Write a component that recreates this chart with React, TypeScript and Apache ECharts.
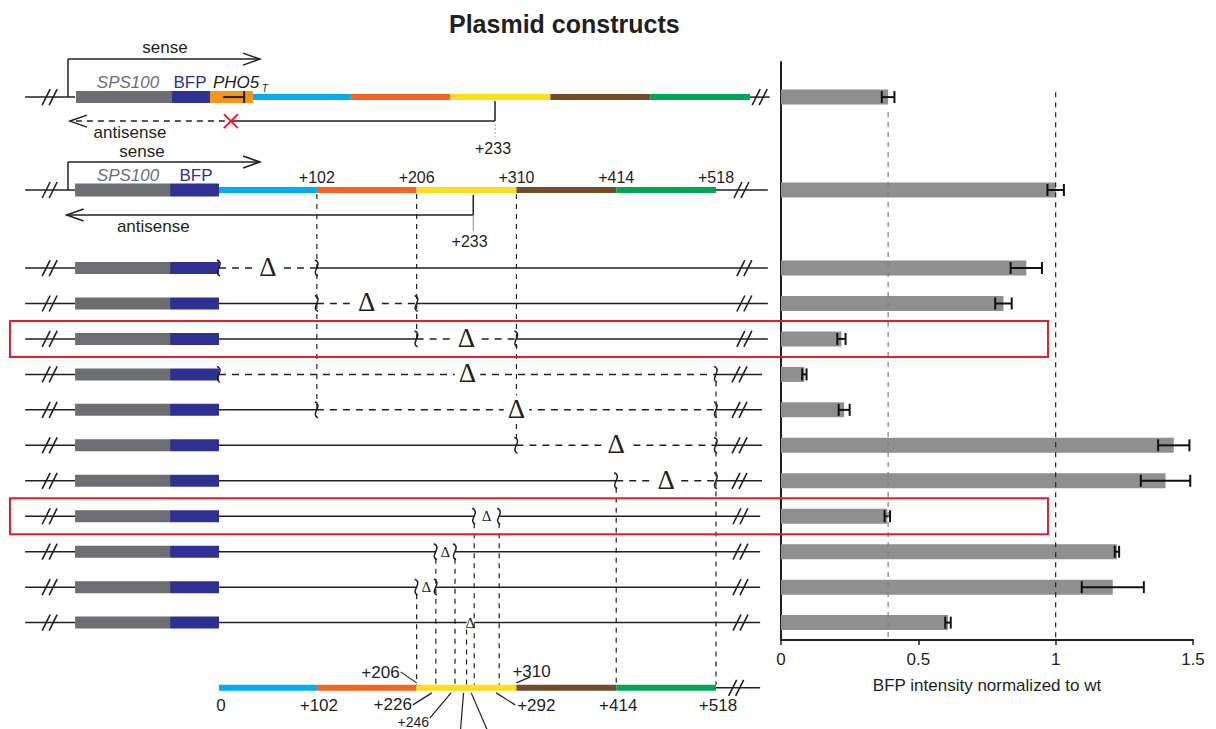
import React, { useEffect, useRef } from "react";
import * as echarts from "echarts";

// ---------------- data ----------------
const constructNames = [
  "PHO5T", "wt", "Δ0–102", "Δ102–206", "Δ206–310", "Δ0–518", "Δ102–518",
  "Δ310–518", "Δ414–518", "Δ266–292", "Δ226–246", "Δ206–226", "Δ258–266",
];
const bfpIntensity = [0.39, 1.0, 0.893, 0.81, 0.22, 0.085, 0.23, 1.43, 1.4, 0.387, 1.223, 1.208, 0.608];
const bfpError = [0.023, 0.03, 0.057, 0.03, 0.015, 0.008, 0.02, 0.057, 0.09, 0.01, 0.008, 0.113, 0.01];
const deletionStart: (number | null)[] = [null, null, 0, 102, 206, 0, 102, 310, 414, 266, 226, 206, 258];
const deletionEnd: (number | null)[] = [null, null, 102, 206, 310, 518, 518, 518, 518, 292, 246, 226, 266];
const segmentBounds = [0, 102, 206, 310, 414, 518];
const scaleMarks = [0, 102, 206, 226, 246, 292, 310, 414, 518];
const antisenseTss = 233;
const referenceLevels = [0.39, 1];
const highlightedRows = [4, 9];
// dashed guide lines: position (bp), from row, to row (-1 = bottom scale)
const guidePos = [102, 206, 310, 518, 414, 206, 226, 246, 258, 266, 292];
const guideFromRow = [1, 1, 1, 5, 8, 11, 10, 10, 12, 9, 9];
const guideToRow = [6, 4, 7, -1, -1, -1, -1, -1, -1, -1, -1];

// ---------------- layout / style ----------------
const ROW_SLOT = [-4.82, -2.2, 0, 1, 2, 3, 4, 5, 6, 7, 8, 9, 10];
const SCALE_SLOT = 11.84;
const Y_MIN = -5.81;
const Y_MAX = 10.49;
const REF_TOP_SLOT = [-4.4, -4.96];
const INK = "#231f20";
const GRAY = "#6d6e71";
const NAVY = "#2e3192";
const PHO_ORANGE = "#f7941d";
const RED = "#ed1c24";
const SEG_COLORS = ["#00aeef", "#f26522", "#ffde17", "#754c29", "#00a651"];
const FONT = "Liberation Sans, Arial, Helvetica, sans-serif";
const SERIF = "Liberation Serif, Times New Roman, serif";

function ln(x1: number, y1: number, x2: number, y2: number, stroke = INK, lineWidth = 1.5, lineDash?: number[]) {
  return { type: "line", shape: { x1, y1, x2, y2 }, style: { stroke, lineWidth, lineDash, fill: null } };
}
function rc(x1: number, x2: number, yc: number, h: number, fill: string) {
  return { type: "rect", shape: { x: x1, y: yc - h / 2, width: x2 - x1, height: h }, style: { fill } };
}
function tx(x: number, y: number, text: string, o: any = {}) {
  return {
    type: "text",
    x,
    y,
    style: {
      text,
      fill: o.color || INK,
      fontSize: o.size || 17,
      fontFamily: o.family || FONT,
      fontStyle: o.italic ? "italic" : "normal",
      fontWeight: o.bold ? "bold" : "normal",
      align: o.align || "center",
      verticalAlign: "middle",
      backgroundColor: o.bg,
      padding: o.pad,
    },
  };
}
function slashes(xc: number, y: number) {
  return [ln(xc - 7, y + 8, xc + 1, y - 8, INK, 1.6), ln(xc, y + 8, xc + 8, y - 8, INK, 1.6)];
}
function brk(x: number, y: number) {
  return {
    type: "bezierCurve",
    shape: { x1: x - 2, y1: y - 8, cpx1: x + 7, cpy1: y - 4, cpx2: x - 7, cpy2: y + 4, x2: x + 1, y2: y + 8 },
    style: { stroke: INK, lineWidth: 1.5, fill: null },
  };
}
function arrowHead(x: number, y: number, dir: number) {
  return {
    type: "polyline",
    shape: { points: [[x - dir * 17, y - 6], [x, y], [x - dir * 17, y + 6]] },
    style: { stroke: INK, lineWidth: 1.5, fill: null },
  };
}

function renderConstruct(params: any, api: any) {
  const i = params.dataIndex;
  const slot = ROW_SLOT[i];
  const X = (bp: number) => api.coord([bp, slot])[0];
  const y = api.coord([0, slot])[1];
  const ch: any[] = [];
  ch.push(ln(X(-202), y, X(-150), y));
  ch.push(...slashes(X(-177), y));

  if (i === 0) {
    const O = 35.4;
    ch.push(rc(X(-149), X(-49), y, 12, GRAY));
    ch.push(rc(X(-49), X(-9.4), y, 12, NAVY));
    ch.push(rc(X(-9.4), X(O), y, 12, PHO_ORANGE));
    ch.push(ln(X(4.3), y, X(26.2), y, INK, 2));
    ch.push(ln(X(26.2), y - 6, X(26.2), y + 6, INK, 2));
    for (let k = 0; k < segmentBounds.length - 1; k++) {
      ch.push(rc(X(O + segmentBounds[k]), X(O + segmentBounds[k + 1]), y, 6, SEG_COLORS[k]));
    }
    ch.push(ln(X(O + 518), y, X(574), y));
    ch.push(...slashes(X(563), y));
    const sx = X(-157.4);
    const tip = X(42.7);
    ch.push(ln(sx, y, sx, y - 38));
    ch.push(ln(sx, y - 38, tip, y - 38));
    ch.push(arrowHead(tip, y - 38, 1));
    ch.push(tx(X(-56.3), y - 50, "sense"));
    ch.push(tx(X(-94.8), y - 15, "SPS100", { italic: true, color: GRAY }));
    ch.push(tx(X(-30.2), y - 15, "BFP", { color: NAVY }));
    ch.push(tx(X(-6.3), y - 15, "PHO5", { italic: true, align: "left" }));
    ch.push(tx(X(44.5), y - 9, "T", { italic: true, size: 10, align: "left" }));
    const ax = X(O + 252.3);
    const ay = y + 24;
    ch.push(ln(ax, y + 4, ax, ay));
    ch.push(ln(ax, ay, X(17.6), ay));
    ch.push(ln(X(17.6), ay, X(-155.3), ay, INK, 1.5, [6, 5]));
    ch.push(arrowHead(X(-155.3), ay, -1));
    const rx = X(12.4);
    ch.push(ln(rx - 7, ay - 7, rx + 7, ay + 7, RED, 2));
    ch.push(ln(rx - 7, ay + 7, rx + 7, ay - 7, RED, 2));
    ch.push(ln(ax, ay + 3, ax, ay + 16, "#9a9a9a", 1, [2, 2]));
    ch.push(tx(ax - 2, y + 51, "+" + antisenseTss, { size: 16 }));
    ch.push(tx(X(-92.8), y + 35, "antisense"));
  } else if (i === 1) {
    ch.push(rc(X(-150), X(-51), y, 13, GRAY));
    ch.push(rc(X(-51), X(0), y, 13, NAVY));
    for (let k = 0; k < segmentBounds.length - 1; k++) {
      ch.push(rc(X(segmentBounds[k]), X(segmentBounds[k + 1]), y, 6, SEG_COLORS[k]));
    }
    segmentBounds.slice(1).forEach((b) => ch.push(tx(X(b), y - 13, "+" + b, { size: 16 })));
    ch.push(ln(X(518), y, X(572), y));
    ch.push(...slashes(X(544), y));
    const sx = X(-157.4);
    const tip = X(42.7);
    ch.push(ln(sx, y, sx, y - 28));
    ch.push(ln(sx, y - 28, tip, y - 28));
    ch.push(arrowHead(tip, y - 28, 1));
    ch.push(tx(X(-80.2), y - 39, "sense"));
    ch.push(tx(X(-94.8), y - 15, "SPS100", { italic: true, color: GRAY }));
    ch.push(tx(X(-23.9), y - 15, "BFP", { color: NAVY }));
    const ax = X(265);
    const ay = y + 25;
    ch.push(ln(ax, y + 5, ax, ay));
    ch.push(ln(ax, ay, X(-158.8), ay));
    ch.push(arrowHead(X(-158.8), ay, -1));
    ch.push(ln(ax, ay, ax, ay + 16, "#8a8a8a", 1));
    ch.push(tx(X(261.2), y + 51, "+" + antisenseTss, { size: 16 }));
    ch.push(tx(X(-68.5), y + 36, "antisense"));
  } else {
    ch.push(rc(X(-150), X(-51), y, 12, GRAY));
    ch.push(rc(X(-51), X(0), y, 12, NAVY));
    const ds = deletionStart[i] as number;
    const de = deletionEnd[i] as number;
    const trailEnd = i <= 4 ? 572 : i <= 8 ? 566 : 564;
    const slashAt = i <= 4 ? 547 : i <= 8 ? 542 : 543;
    const kind = i <= 8 ? "dashed" : i <= 11 ? "gap" : "mark";
    const mid = X((ds + de) / 2);
    if (ds > 0) ch.push(ln(X(0), y, X(ds), y));
    ch.push(ln(X(de), y, X(trailEnd), y));
    if (kind === "dashed") {
      ch.push(ln(X(ds), y, X(de), y, INK, 1.5, [7, 6]));
      ch.push(brk(X(ds), y));
      ch.push(brk(X(de), y));
      ch.push(tx(mid, y - 1, "\u0394", { size: 27, family: SERIF, bg: "#ffffff", pad: [0, 4] }));
    } else if (kind === "gap") {
      ch.push(brk(X(ds), y));
      ch.push(brk(X(de), y));
      ch.push(tx(mid, y, "\u0394", { size: 15, family: SERIF }));
    } else {
      ch.push(tx(mid, y, "\u0394", { size: 15, family: SERIF }));
    }
    ch.push(...slashes(X(slashAt), y));
  }
  return { type: "group", children: ch };
}

function renderGuide(params: any, api: any) {
  const k = params.dataIndex;
  const x = api.coord([guidePos[k], 0])[0];
  const from = guideFromRow[k];
  const to = guideToRow[k];
  const y1 = api.coord([0, ROW_SLOT[from]])[1] + (from === 1 ? 4 : 7);
  const y2 = to === -1 ? api.coord([0, SCALE_SLOT])[1] - 3 : api.coord([0, ROW_SLOT[to]])[1];
  return ln(x, y1, x, y2, INK, 1.2, [5, 5]);
}

function renderScale(params: any, api: any) {
  const X = (bp: number) => api.coord([bp, SCALE_SLOT])[0];
  const y = api.coord([0, SCALE_SLOT])[1];
  const ch: any[] = [];
  for (let k = 0; k < segmentBounds.length - 1; k++) {
    ch.push(rc(X(segmentBounds[k]), X(segmentBounds[k + 1]), y, 6, SEG_COLORS[k]));
  }
  ch.push(ln(X(518), y, X(564), y));
  ch.push(...slashes(X(538.5), y));
  scaleMarks.forEach((m) => {
    const label = m === 0 ? "0" : "+" + m;
    const x = X(m);
    if (m === 206) {
      ch.push(ln(x - 16, y - 16, x, y - 5, INK, 1.2));
      ch.push(tx(x - 17, y - 15, label, { align: "right" }));
    } else if (m === 310) {
      ch.push(ln(x, y - 5, x + 14, y - 11, INK, 1.2));
      ch.push(tx(x - 4, y - 16, label, { align: "left" }));
    } else if (m === 226) {
      ch.push(ln(x - 4, y + 5, x - 23, y + 17, INK, 1.2));
      ch.push(tx(x - 24, y + 17, label, { align: "right" }));
    } else if (m === 246) {
      ch.push(ln(x - 4, y + 5, x - 25, y + 30, INK, 1.2));
      ch.push(tx(x - 26, y + 34, label, { align: "right", size: 14 }));
    } else if (m === 292) {
      ch.push(ln(x - 3, y + 5, x + 16, y + 17, INK, 1.2));
      ch.push(tx(x + 18, y + 18, label, { align: "left" }));
    } else {
      ch.push(tx(x + 2, y + 18, label));
    }
  });
  // leader lines for the positions inside the yellow block whose labels lie below
  [258, 266].forEach((m, j) => {
    const x = X(m);
    ch.push(ln(x - 3, y + 5, x - 6 + j * 19, y + 42, INK, 1.2));
  });
  return { type: "group", children: ch };
}

function renderBox(params: any, api: any) {
  const slot = ROW_SLOT[highlightedRows[params.dataIndex]];
  const [x1, y] = api.coord([-217.8, slot]);
  const x2 = api.coord([864, slot])[0];
  return {
    type: "rect",
    shape: { x: x1, y: y - 18, width: x2 - x1, height: 36 },
    style: { stroke: RED, lineWidth: 2, fill: null },
  };
}

function renderBar(params: any, api: any) {
  const v = api.value(0);
  const s = api.value(1);
  const e = api.value(2);
  const [x0, y] = api.coord([0, s]);
  const x1 = api.coord([v, s])[0];
  const xl = api.coord([v - e, s])[0];
  const xr = api.coord([v + e, s])[0];
  return {
    type: "group",
    children: [
      rc(x0, x1, y, 15, "#8f8f8f"),
      ln(xl, y, xr, y, "#111", 2),
      ln(xl, y - 6, xl, y + 6, "#111", 2),
      ln(xr, y - 6, xr, y + 6, "#111", 2),
    ],
  };
}

function renderRef(params: any, api: any) {
  const k = params.dataIndex;
  const v = api.value(0);
  const [x, yTop] = api.coord([v, REF_TOP_SLOT[k]]);
  const yBot = api.coord([v, Y_MAX])[1];
  return ln(x, yTop, x, yBot, k === 0 ? "#7d7d7d" : INK, 1.2, [5, 5]);
}

export default function App() {
  const ref = useRef<HTMLDivElement>(null);
  useEffect(() => {
    document.body.style.margin = "0";
    if (!ref.current) return;
    const chart = echarts.init(ref.current, undefined, { renderer: "svg" });
    const hiddenY = { type: "value", min: Y_MIN, max: Y_MAX, inverse: true, show: false };
    chart.setOption({
      animation: false,
      backgroundColor: "#ffffff",
      title: {
        text: "Plasmid constructs",
        left: 444,
        top: 6,
        textStyle: { fontSize: 25, fontWeight: "bold", fontFamily: FONT, color: INK },
      },
      grid: [
        { left: 17.5, top: 62, width: 748.4, height: 578 },
        { left: 781, top: 62, width: 412, height: 578 },
      ],
      xAxis: [
        { gridIndex: 0, type: "value", min: -210, max: 570, show: false },
        {
          gridIndex: 1,
          type: "value",
          min: 0,
          max: 1.5,
          interval: 0.5,
          axisLine: { onZero: false, lineStyle: { color: INK, width: 2 } },
          axisTick: { length: 5, lineStyle: { color: INK, width: 1.5 } },
          axisLabel: { fontSize: 17, color: INK, fontFamily: FONT, margin: 11 },
          splitLine: { show: false },
          name: "BFP intensity normalized to wt",
          nameLocation: "middle",
          nameGap: 37,
          nameTextStyle: { fontSize: 17, color: INK, fontFamily: FONT },
        },
      ],
      yAxis: [
        { gridIndex: 0, ...hiddenY },
        {
          gridIndex: 1,
          type: "value",
          min: Y_MIN,
          max: Y_MAX,
          inverse: true,
          axisLine: { show: true, onZero: false, lineStyle: { color: INK, width: 2 } },
          axisTick: { show: false },
          axisLabel: { show: false },
          splitLine: { show: false },
        },
      ],
      series: [
        {
          type: "custom",
          name: "guides",
          xAxisIndex: 0,
          yAxisIndex: 0,
          clip: false,
          silent: true,
          data: guidePos.map((p, k) => [p, ROW_SLOT[guideFromRow[k]]]),
          renderItem: renderGuide,
        },
        {
          type: "custom",
          name: "constructs",
          xAxisIndex: 0,
          yAxisIndex: 0,
          clip: false,
          silent: true,
          data: constructNames.map((n, i) => [0, ROW_SLOT[i]]),
          renderItem: renderConstruct,
        },
        {
          type: "custom",
          name: "scale",
          xAxisIndex: 0,
          yAxisIndex: 0,
          clip: false,
          silent: true,
          data: [[0, SCALE_SLOT]],
          renderItem: renderScale,
        },
        {
          type: "custom",
          name: "BFP intensity",
          xAxisIndex: 1,
          yAxisIndex: 1,
          clip: false,
          silent: true,
          dimensions: ["value", "slot", "error"],
          encode: { x: 0, y: 1 },
          data: bfpIntensity.map((v, i) => [v, ROW_SLOT[i], bfpError[i]]),
          renderItem: renderBar,
        },
        {
          type: "custom",
          name: "reference",
          xAxisIndex: 1,
          yAxisIndex: 1,
          clip: false,
          silent: true,
          data: referenceLevels.map((v, k) => [v, REF_TOP_SLOT[k]]),
          renderItem: renderRef,
        },
        {
          type: "custom",
          name: "highlight",
          xAxisIndex: 0,
          yAxisIndex: 0,
          clip: false,
          silent: true,
          data: highlightedRows.map((r) => [0, ROW_SLOT[r]]),
          renderItem: renderBox,
        },
      ],
    });
    return () => chart.dispose();
  }, []);
  return <div ref={ref} style={{ width: 1216, height: 729 }} />;
}
